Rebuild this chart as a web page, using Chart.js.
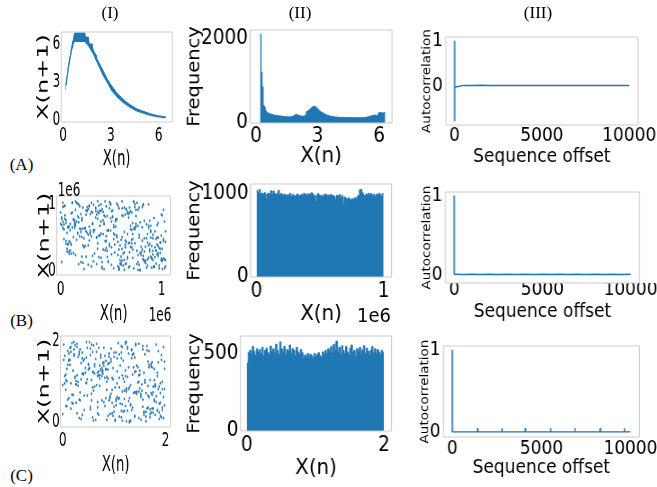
<!DOCTYPE html>
<html>
<head>
<meta charset="utf-8">
<title>X(n) maps</title>
<script src="https://cdn.jsdelivr.net/npm/chart.js@4.4.1/dist/chart.umd.min.js"></script>
<style>
html, body { margin: 0; padding: 0; background: #fff; overflow: hidden; }
body { position: relative; width: 657px; height: 487px; }
.panel { position: absolute; transform-origin: 0 0; }
.panel canvas { display: block; }
.txt { position: absolute; white-space: nowrap; line-height: 1; color: #000; }
.serif { font-family: 'Liberation Serif', 'Times New Roman', serif; font-size: 17px; }
.sans { font-family: 'DejaVu Sans', sans-serif; font-size: 20px; }
</style>
</head>
<body>
<script>
// headings
var colHeads = ['(I)', '(II)', '(III)'];
var rowHeads = ['(A)', '(B)', '(C)'];

// (A)-I : the band traced by X(n) -> X(n+1)
var mapX  = [0.15, 0.25, 0.35, 0.45, 0.55, 0.65, 0.72, 1.0, 1.38, 1.42, 1.6, 1.65, 1.85, 1.9, 2.1, 2.15, 2.4, 2.6, 2.8, 3.0, 3.4, 3.8, 4.2, 4.6, 5.0, 5.5, 6.0, 6.44];
var mapHi = [2.7, 3.6, 4.5, 5.2, 5.9, 6.5, 6.87, 6.87, 6.87, 6.55, 6.55, 6.0, 6.0, 5.5, 5.1, 4.8, 4.2, 3.7, 3.2, 2.8, 2.1, 1.6, 1.2, 0.9, 0.7, 0.48, 0.32, 0.25];
var mapLo = [2.4, 3.2, 4.1, 4.85, 5.5, 6.0, 6.2, 6.2, 6.2, 6.1, 5.85, 5.7, 5.3, 5.2, 4.6, 4.5, 3.8, 3.3, 2.9, 2.4, 1.8, 1.35, 1.0, 0.72, 0.55, 0.36, 0.24, 0.17];

// (A)-II : histogram, bins of 0.05 from 0.2
var histAStart = 0.2, histAStep = 0.05;
var histA = [2110, 1210, 860, 420, 380, 300, 255, 240, 228, 218,
  210, 204, 196, 190, 185, 180, 176, 170, 168, 172,
  160, 158, 163, 150, 155, 148, 150, 143, 146, 140,
  148, 155, 165, 180, 198, 205, 190, 185, 175, 168,
  160, 158, 165, 172, 185, 270, 285, 300, 320, 345,
  370, 390, 380, 395, 372, 350, 330, 300, 280, 262,
  248, 232, 220, 205, 196, 185, 178, 170, 162, 158,
  152, 148, 145, 142, 140, 138, 136, 135, 133, 137,
  131, 134, 130, 132, 129, 133, 128, 131, 127, 130,
  126, 129, 127, 125, 128, 126, 124, 127, 125, 128,
  126, 130, 133, 137, 142, 148, 155, 160, 168, 175,
  182, 190, 185, 178, 172, 230, 250, 245, 240, 242,
  238, 245];

// (B)-II : 100 bins over [0, 1e6]
var histBStart = 0, histBStep = 1e4;
var histB = [1030, 1010, 1045, 995, 1000, 985, 1005, 930, 990, 1000,
  985, 1030, 990, 1025, 995, 980, 1000, 1035, 975, 995,
  985, 970, 990, 965, 980, 975, 1000, 960, 985, 970,
  965, 980, 990, 960, 975, 985, 970, 1000, 980, 990,
  975, 995, 985, 1005, 990, 970, 905, 975, 995, 980,
  960, 975, 960, 985, 990, 970, 980, 965, 985, 975,
  970, 960, 920, 975, 965, 985, 950, 970, 880, 955,
  940, 925, 945, 930, 920, 935, 925, 945, 930, 960,
  975, 1040, 1045, 1005, 980, 965, 990, 975, 1000, 985,
  995, 970, 985, 960, 990, 975, 1000, 985, 970, 995];

// (C)-II : 100 bins over [0, 2]
var histCStart = 0, histCStep = 0.02;
var histC = [437, 505, 520, 498, 545, 515, 490, 530, 510, 525,
  500, 540, 485, 520, 535, 505, 495, 548, 512, 530,
  505, 560, 520, 495, 575, 530, 510, 545, 490, 525,
  515, 555, 500, 530, 520, 485, 540, 510, 495, 525,
  505, 470, 490, 480, 500, 475, 495, 485, 470, 500,
  480, 495, 505, 485, 475, 510, 490, 520, 500, 530,
  515, 545, 505, 560, 525, 580, 510, 540, 495, 550,
  520, 500, 545, 510, 490, 535, 555, 505, 520, 480,
  530, 510, 540, 495, 525, 550, 500, 535, 515, 490,
  520, 545, 505, 530, 500, 525, 510, 495, 520, 505];

// (B)-I and (C)-I : samples, in percent units of each range
var scatBUnit = 10500, scatCUnit = 0.02;
var scatBX = [12,87,45,3,66,91,28,54,77,9,38,62,15,83,50,24,96,71,5,42,
  59,33,80,18,68,2,93,47,26,74,11,56,85,37,64,21,99,8,52,79,
  30,67,14,88,41,73,6,58,35,92,19,48,81,27,63,97,4,55,70,39,
  86,23,61,10,76,44,31,95,53,17,69,1,84,40,25,78,13,57,90,34,
  46,72,20,65,98,7,51,29,82,60,36,89,16,75,43,0,94,49,22,67,
  8,57,33,91,14,70,45,26,83,62,3,79,38,55,97,19,68,11,86,50,
  74,28,95,41,6,63,87,22,53,35,80,16,47,92,30,65,2,77,58,24,
  39,84,12,69,51,96,27,73,9,44,88,31,60,18,76,5,54,36,93,66,
  21,48,78,1,59,85,42,13,70,98,25,61,7,82,40,67,15,90,52,34,
  63,10,89,46,29,75,56,4,37,94,71,20,83,50,17,64,99,32,45,78,
  6,55,27,81,38,68,14,92,49,23,73,58,35,87,2,61,43,96,19,70,
  52,86,11,40,65,30,79,24,57,9,91,47,16,74,33,85,60,1,42,97,
  18,67,44,93,7,54,82,36,62,28,75,13,88,50,21,69,39,95,4,58,
  80,31,72,15,48,98,25,63,41,84,3,56,77,34,90,12,66,46,26,73,
  37,94,59,20,85,43,68,8,53,76,29,64,99,17,45,81,5,71,32,60,
  89,14,51,78,0,62,35,87,22,47,70,10,58,92,39,24,83,55,68,3,
  44,75,26,97,61,19,84,42,66,31,95,53,8,79,27,64,48,13,86,38,
  57,2,91,34,72,49,16,80,60,25,43,88,69,11,96,36,74,21,52,7,
  28,65,40,83,17,94,55,30,77,5,63,46,90,23,71,58,1,82,35,99,
  73,20,48,12,87,38,67,96,9,54,29,78,41,65,14,92,50,33,61,85];
var scatBY = [73,15,58,92,34,47,81,6,62,29,95,41,70,18,53,86,2,67,38,77,
  24,89,11,60,45,97,32,75,8,51,83,36,20,64,4,90,56,27,71,13,
  66,39,87,5,79,22,54,99,31,68,12,85,46,93,17,42,74,1,59,88,
  35,61,9,82,26,57,94,14,48,76,3,65,30,52,91,21,69,44,10,80,
  98,28,72,40,16,63,37,84,7,55,93,19,78,0,49,67,25,86,33,58,
  42,8,76,23,64,95,12,51,36,88,59,27,70,4,45,81,30,97,18,62,
  90,53,17,68,31,84,46,2,74,39,11,96,57,25,83,6,61,43,79,20,
  5,71,48,99,26,14,63,87,40,19,75,55,1,92,34,68,22,50,7,85,
  60,33,94,12,78,47,29,65,91,3,54,80,37,16,72,44,97,28,63,9,
  82,24,56,38,6,69,15,93,50,31,87,20,64,45,9,76,41,58,13,95,
  27,89,43,66,18,52,99,35,77,60,1,48,84,23,70,33,92,14,55,39,
  71,4,62,30,90,21,46,80,11,67,37,96,53,8,85,57,26,74,42,17,
  49,83,28,3,61,93,40,19,88,54,25,72,6,65,36,98,12,50,79,31,
  14,58,97,44,23,70,85,52,2,38,66,10,91,47,29,73,59,35,88,64,
  86,40,7,75,55,32,18,63,96,22,49,81,15,69,57,4,42,78,24,90,
  33,67,51,16,83,10,74,28,46,94,62,37,89,21,3,56,95,30,68,45,
  78,1,36,87,43,59,27,99,64,13,80,50,24,71,92,39,8,61,17,53,
  20,91,65,48,9,77,54,34,15,86,42,5,60,97,31,82,47,11,73,38,
  57,26,84,61,95,40,2,68,30,72,19,89,45,35,63,14,76,52,99,6,
  12,48,70,25,51,85,33,79,58,41,97,16,66,83,22,47,3,90,37,64];
var scatCX = [41,7,83,26,60,94,15,52,71,33,88,2,47,65,19,79,38,97,56,10,
  68,29,90,44,5,75,58,21,86,37,13,62,99,31,50,84,24,70,9,46,
  17,93,35,59,78,0,66,42,27,81,54,12,89,73,30,3,96,48,63,22,
  85,51,8,72,39,61,95,18,45,28,77,64,4,34,91,57,14,82,43,69,
  25,98,55,11,87,36,49,74,1,62,20,92,67,40,6,80,32,53,76,16,
  58,34,71,90,23,47,9,84,65,12,96,38,55,27,79,44,3,68,87,30,
  14,76,42,60,95,5,81,36,53,19,70,88,25,48,62,99,11,33,57,74,
  93,21,66,2,45,83,29,57,78,40,8,63,91,16,37,72,50,85,24,6,
  49,80,18,35,69,97,52,13,89,61,26,43,74,1,94,58,31,67,10,82,
  38,64,94,27,7,55,76,41,20,86,47,99,15,70,33,52,88,4,61,23,
  73,11,50,84,62,30,17,96,44,68,3,79,58,24,90,39,65,46,14,92,
  6,87,31,57,19,75,40,63,98,34,82,22,9,51,67,85,28,71,48,36,
  60,25,78,13,92,45,66,8,54,77,35,0,69,86,42,18,97,59,29,83,
  47,94,4,70,32,58,87,21,39,63,91,53,27,12,80,64,5,44,75,56,
  16,68,37,99,52,10,74,46,83,28,60,17,95,38,55,71,89,23,2,65,
  89,41,62,20,8,78,34,93,15,51,72,43,84,6,30,97,48,11,67,59,
  28,55,86,43,74,31,3,66,50,90,19,85,36,61,14,26,79,53,95,40,
  70,13,45,92,57,23,81,7,35,64,49,76,98,29,88,42,61,16,34,81];
var scatCY = [55,92,18,67,39,4,81,26,63,97,12,48,75,30,86,9,57,41,70,23,
  84,6,45,72,28,59,93,15,36,80,51,1,66,44,19,88,33,62,98,10,
  37,74,58,13,90,46,21,65,83,7,29,95,52,68,2,40,77,24,91,61,
  16,43,87,35,64,99,8,53,73,27,47,85,20,57,32,79,11,94,50,68,
  71,5,30,82,17,54,67,38,96,42,60,14,89,25,76,49,3,63,35,87,
  22,61,97,9,48,78,34,71,0,56,83,27,43,91,12,65,52,18,74,39,
  93,31,66,50,24,88,13,45,79,60,7,37,72,55,99,21,84,46,6,58,
  41,78,2,57,85,33,62,94,19,70,48,14,96,28,65,38,81,10,53,30,
  8,52,73,92,36,15,86,47,28,64,99,40,5,77,23,58,69,90,34,17,
  62,26,44,19,71,55,3,82,59,12,35,75,50,8,87,29,44,66,97,80,
  49,90,13,68,40,95,27,6,54,83,20,61,38,92,47,73,1,32,58,15,
  77,34,60,86,9,42,74,56,31,18,89,67,24,3,79,52,96,37,11,70,
  29,65,94,24,57,81,46,17,98,39,63,10,85,72,30,4,50,76,87,45,
  91,12,51,37,78,2,68,33,60,93,25,48,16,55,84,41,71,8,64,23,
  5,59,83,41,21,64,97,30,75,52,14,90,36,67,7,95,26,49,82,43,
  66,20,38,76,93,28,11,88,45,2,70,56,31,85,62,18,40,99,15,54,
  35,84,69,3,50,72,59,22,86,44,79,6,58,20,97,67,13,31,48,92,
  80,47,27,61,14,99,36,77,9,68,53,33,93,43,17,76,57,84,25,1];

// (III) : autocorrelation against sequence offset
var acfLagA = [0, 1, 2, 3, 4, 5, 500, 1000, 1500, 2000, 2500, 3000, 3500, 4000, 4500, 5000, 5500, 6000, 6500, 7000, 7500, 8000, 8500, 9000, 9500, 10000];
var acfA = [1, -0.8, 0.42, -0.22, 0.1, -0.04, 0.002, -0.002, 0.003, -0.002, 0.001, -0.002, 0.002, -0.001, 0.002, -0.002, 0.002, -0.001, 0.002, -0.002, 0.001, -0.002, 0.002, -0.001, 0.002, -0.001];
var acfLagB = [0, 1, 500, 1000, 1500, 2000, 2500, 3000, 3500, 4000, 4500, 5000, 5500, 6000, 6500, 7000, 7500, 8000, 8500, 9000, 9500, 10000];
var acfB = [1, 0.002, -0.001, 0.001, -0.002, 0.001, -0.001, 0.002, -0.001, 0.001, -0.002, 0.001, -0.001, 0.001, -0.002, 0.001, -0.001, 0.002, -0.001, 0.001, -0.001, 0.001];
var acfLagC = [0, 1, 1400, 1420, 1440, 2770, 2790, 2810, 4080, 4100, 4120, 5490, 5510, 5530, 6860, 6880, 6900, 8280, 8300, 8320, 9640, 9660, 9680, 10000];
var acfC = [1, 0.003, 0.002, 0.05, 0.002, 0.002, 0.05, 0.002, 0.002, 0.05, 0.002, 0.002, 0.05, 0.002, 0.002, 0.05, 0.002, 0.002, 0.05, 0.002, 0.002, 0.05, 0.002, 0.002];

// tick values
var ticksMap = [0, 3, 6];
var ticksHistAY = [0, 2000];
var ticksLag = [0, 5000, 10000];
var ticksUnit = [0, 1];
var ticksMillion = [0, 1e6];
var ticksHistBY = [0, 1000];
var ticksTwo = [0, 2];
var ticksHistCY = [0, 500];

var blue = '#1f77b4';
Chart.defaults.font.family = "'DejaVu Sans', sans-serif";
Chart.defaults.color = '#000';

function zip(xs, ys, kx, ky) {
  var out = [];
  var n = Math.min(xs.length, ys.length);
  for (var i = 0; i < n; i++) out.push({x: xs[i] * (kx || 1), y: ys[i] * (ky || 1)});
  return out;
}

function histPoints(start, step, counts) {
  var pts = [];
  for (var i = 0; i < counts.length; i++) pts.push({x: start + i * step, y: counts[i]});
  pts.push({x: start + counts.length * step, y: counts[counts.length - 1]});
  return pts;
}

function histSet(start, step, counts) {
  return {data: histPoints(start, step, counts), stepped: true, fill: 'origin',
    borderColor: blue, backgroundColor: blue, borderWidth: 1, pointRadius: 0};
}
function scatterSet(xs, ys, k) {
  return {data: zip(xs, ys, k, k), showLine: false, pointRadius: 1.5,
    pointBackgroundColor: 'rgba(31,119,180,0.85)', pointBorderWidth: 0};
}
// the lags bunched on the first pixel column are shown as one floating bar
// spanning their range, the rest as a line; values stay inside the axis range,
// so no clipping is needed
function acfSets(lags, vals, head) {
  var pts = zip(lags, vals);
  var first = vals.slice(0, head + 1);
  var lo = Math.min.apply(null, first), hi = Math.max.apply(null, first);
  return [
    {type: 'bar', data: [{x: lags[0], y: [lo, hi]}], backgroundColor: 'rgba(31,119,180,0.75)',
      borderWidth: 0, barThickness: 1.6, grouped: false, clip: false},
    {type: 'line', data: pts.slice(head), borderColor: blue, borderWidth: 1.4, pointRadius: 0,
      fill: false, tension: 0, borderJoinStyle: 'bevel', clip: false}
  ];
}

// light grey frame round the plot area
var framePlugin = {
  id: 'frame',
  afterDatasetsDraw: function(chart, args, opts) {
    var a = chart.chartArea, c = chart.ctx, f = opts.f || 1;
    c.save();
    c.strokeStyle = '#cccccc';
    c.lineWidth = 1;
    c.beginPath();
    c.moveTo(a.left, a.top); c.lineTo(a.right, a.top);
    c.moveTo(a.left, a.bottom); c.lineTo(a.right, a.bottom);
    c.stroke();
    c.lineWidth = 1 / f;
    c.beginPath();
    c.moveTo(a.left, a.top); c.lineTo(a.left, a.bottom);
    c.moveTo(a.right, a.top); c.lineTo(a.right, a.bottom);
    c.stroke();
    c.restore();
  }
};

var plain = function(v) { return String(v); };
var million = function(v) { return String(v / 1e6); };

function axis(range, ticks, fmt, title, titleSize, tickSize, pad, fit) {
  return {
    type: 'linear', min: range[0], max: range[1], offset: false,
    afterBuildTicks: function(a) { a.ticks = ticks.map(function(v) { return {value: v}; }); },
    afterFit: fit,
    grid: {display: false, drawTicks: false, offset: false},
    border: {display: false},
    ticks: {padding: pad, autoSkip: false, maxRotation: 0, minRotation: 0, color: '#000',
      font: {size: tickSize}, callback: fmt},
    title: {display: true, text: title, color: '#000', font: {size: titleSize}, padding: 0}
  };
}

function buildPanel(p) {
  var L = p.box[0], T = p.box[1], R = p.box[2], B = p.box[3], f = p.f;
  var padTop = 14;
  var yw = p.ySize * 0.6 + (L - p.yTitleX) / f;
  var xh = (p.xTitleY - B) + p.xSize * 0.6;
  var plotW = (R - L) / f;
  var cw = Math.ceil(yw + plotW + p.padR);
  var ch = Math.ceil(padTop + (B - T) + xh);
  var padR = cw - yw - plotW;
  var padB = ch - padTop - (B - T) - xh;

  var wrap = document.createElement('div');
  wrap.className = 'panel';
  wrap.style.left = (L - yw * f) + 'px';
  wrap.style.top = (T - padTop) + 'px';
  wrap.style.transform = 'scaleX(' + f + ')';
  var cv = document.createElement('canvas');
  cv.width = cw; cv.height = ch;
  wrap.appendChild(cv);
  document.body.appendChild(wrap);

  new Chart(cv, {
    type: p.type,
    data: {datasets: p.datasets},
    options: {
      responsive: false, animation: false, devicePixelRatio: 1, events: [],
      layout: {padding: {left: 0, top: padTop, right: padR, bottom: padB}},
      plugins: {legend: {display: false}, tooltip: {enabled: false}, frame: {f: f}},
      scales: {
        x: axis(p.xr, p.xt, p.xfmt || plain, p.xTitle, p.xSize, p.tick, p.xPad,
          function(s) { s.height = xh; s.paddingLeft = 0; s.paddingRight = 0; }),
        y: axis(p.yr, p.yt, p.yfmt || plain, p.yTitle, p.ySize, p.tick, p.yPad,
          function(s) { s.width = yw; s.paddingTop = 0; s.paddingBottom = 0; })
      }
    },
    plugins: [framePlugin]
  });
}

function addText(str, cx, cy, cls, f) {
  var d = document.createElement('div');
  d.className = 'txt ' + cls;
  d.textContent = str;
  d.style.left = cx + 'px';
  d.style.top = cy + 'px';
  d.style.transform = 'translate(-50%,-50%)' + (f ? ' scaleX(' + f + ')' : '');
  document.body.appendChild(d);
}

var colI = {f: 0.6, ySize: 24, xSize: 22, tick: 20, yPad: 1.5, padR: 12, yTitle: 'X(n+1)', xTitle: 'X(n)'};
var colII = {f: 0.9, ySize: 19.5, xSize: 22, tick: 20.5, yPad: 2.2, padR: 12, yTitle: 'Frequency', xTitle: 'X(n)'};
var colIII = {f: 0.85, ySize: 13.5, xSize: 20, tick: 20, yPad: 3.5, padR: 40, yTitle: 'Autocorrelation', xTitle: 'Sequence offset'};

function withCol(col, extra) {
  var o = {};
  for (var k in col) o[k] = col[k];
  for (var j in extra) o[j] = extra[j];
  return o;
}

var panels = [
  withCol(colI, {box: [61, 32, 172, 122], yTitleX: 43.5, xTitleY: 159.7, xPad: 1.5,
    xr: [-0.12, 6.85], yr: [-0.16, 6.95], xt: ticksMap, yt: ticksMap, type: 'line',
    datasets: [
      {data: zip(mapX, mapHi), borderColor: blue, backgroundColor: blue, borderWidth: 1, pointRadius: 0, fill: false, tension: 0},
      {data: zip(mapX, mapLo), borderColor: blue, backgroundColor: blue, borderWidth: 1, pointRadius: 0, fill: '-1', tension: 0}
    ]}),
  withCol(colII, {box: [250, 30, 392, 123], yTitleX: 194.5, xTitleY: 156.7, xPad: 1,
    xr: [-0.29, 6.63], yr: [0, 2214], xt: ticksMap, yt: ticksHistAY, type: 'line',
    datasets: [histSet(histAStart, histAStep, histA)]}),
  withCol(colIII, {box: [446, 37, 638, 125], yTitleX: 427, xTitleY: 156.7, xPad: -1.2,
    xr: [-500, 10500], yr: [-0.89, 1.09], xt: ticksLag, yt: ticksUnit, type: 'line',
    datasets: acfSets(acfLagA, acfA, 5)}),

  withCol(colI, {box: [57, 196, 171, 275], yTitleX: 45, xTitleY: 314, xPad: 2.5,
    xr: [-0.04e6, 1.09e6], yr: [-0.07e6, 1.12e6], xt: ticksMillion, yt: ticksMillion,
    xfmt: million, yfmt: million, type: 'scatter',
    datasets: [scatterSet(scatBX, scatBY, scatBUnit)]}),
  withCol(colII, {box: [251, 184, 392, 277], yTitleX: 195, xTitleY: 314, xPad: 2.5,
    xr: [-0.047e6, 1.063e6], yr: [0, 1110], xt: ticksMillion, yt: ticksHistBY,
    xfmt: million, type: 'line',
    datasets: [histSet(histBStart, histBStep, histB)]}),
  withCol(colIII, {box: [445, 192, 639, 283], yTitleX: 426.5, xTitleY: 311.5, xPad: -5.5,
    xr: [-500, 10500], yr: [-0.11, 1.05], xt: ticksLag, yt: ticksUnit, type: 'line',
    datasets: acfSets(acfLagB, acfB, 1)}),

  withCol(colI, {box: [61, 336, 171, 427], yTitleX: 45, xTitleY: 465, xPad: 1.5,
    xr: [-0.04, 2.1], yr: [-0.12, 2.13], xt: ticksTwo, yt: ticksTwo, type: 'scatter',
    datasets: [scatterSet(scatCX, scatCY, scatCUnit)]}),
  withCol(colII, {box: [241, 336, 392, 431], yTitleX: 195, xTitleY: 468, xPad: 2,
    xr: [-0.09, 2.11], yr: [0, 613], xt: ticksTwo, yt: ticksHistCY, type: 'line',
    datasets: [histSet(histCStart, histCStep, histC)]}),
  withCol(colIII, {box: [443, 346, 639, 437], yTitleX: 424.5, xTitleY: 468, xPad: 0,
    xr: [-500, 10500], yr: [-0.06, 1.05], xt: ticksLag, yt: ticksUnit, type: 'line',
    datasets: acfSets(acfLagC, acfC, 1)})
];

panels.forEach(buildPanel);

addText(colHeads[0], 110, 12, 'serif');
addText(colHeads[1], 300, 12, 'serif');
addText(colHeads[2], 538, 12, 'serif');
addText(rowHeads[0], 21.5, 164, 'serif');
addText(rowHeads[1], 21.5, 320, 'serif');
addText(rowHeads[2], 21.5, 475, 'serif');

// scale offset texts
addText('1e6', 69, 189, 'sans', 0.6);
addText('1e6', 159.5, 314, 'sans', 0.6);
addText('1e6', 373.5, 315, 'sans', 0.9);
</script>
</body>
</html>
